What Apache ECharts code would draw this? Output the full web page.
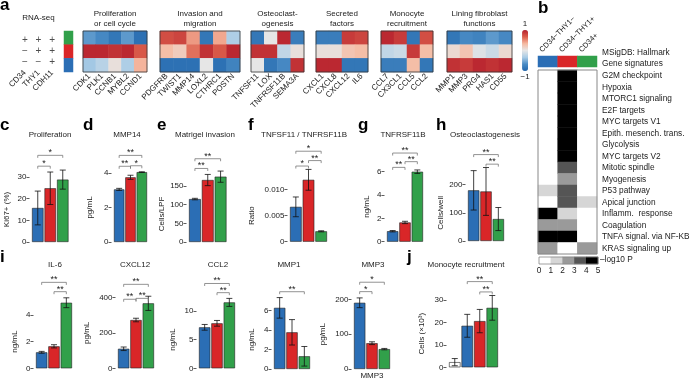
<!DOCTYPE html>
<html><head><meta charset="utf-8">
<script src="https://cdn.jsdelivr.net/npm/echarts@6/dist/echarts.min.js"></script>
<style>html,body{margin:0;padding:0;background:#fff}#c{width:690px;height:379px}</style>
</head><body><div id="c"></div>
<script>
// ---------------- DATA ----------------
const groups3 = ['CD34−THY1−', 'CD34−THY1+', 'CD34+'];
const groups4 = ['Medium', 'CD34−THY1−', 'CD34−THY1+', 'CD34+'];
const rnaMarkers = ['CD34', 'THY1', 'CDH11'];
const rnaSigns = [['+', '+', '+'], ['−', '+', '+'], ['−', '−', '+']];
const rowGroupCodes = [2, 1, 0]; // rows: CD34+, CD34−THY1+, CD34−THY1−

const prolifGenes = ['CDK1', 'PLK1', 'CCNB1', 'MYBL2', 'CCND1'];
const prolifVals = [[-0.6, -0.7, -0.85, -0.6, -0.9], [0.95, 0.95, 0.9, 0.95, 0.7], [-0.35, -0.25, 0.05, -0.3, 0.35]];
const invGenes = ['PDGFRB', 'TWIST1', 'MMP14', 'LOXL2', 'CTHRC1', 'POSTN'];
const invVals = [[0.75, 0.8, 0.45, -0.85, 0.4, -0.3], [0.3, 0.2, 0.6, 0.9, 0.7, 0.95], [-0.9, -0.9, -0.9, 0.0, -0.9, -0.75]];
const ostGenes = ['TNFSF11', 'LOX', 'TNFRSF11B', 'SEMA3A'];
const ostVals = [[-0.85, 0.0, 0.95, -0.8], [0.9, 0.9, -0.2, 0.05], [0.0, -0.85, -0.7, 0.9]];
const secGenes = ['CXCL1', 'CXCL8', 'CXCL12', 'IL6'];
const secVals = [[-0.8, -0.8, 0.85, 0.8], [0.05, 0.05, 0.25, 0.3], [0.95, 0.95, -0.85, -0.85]];
const monoGenes = ['CCL7', 'CX3CL1', 'CCL5', 'CCL2'];
const monoVals = [[0.95, 0.85, -0.85, 0.75], [-0.2, -0.15, 0.85, 0.3], [-0.8, -0.8, 0.3, -0.85]];
const linGenes = ['MMP1', 'MMP3', 'PRG4', 'HAS1', 'CD55'];
const linVals = [[-0.85, -0.7, -0.75, -0.6, -0.7], [0.1, 0.25, -0.05, -0.15, 0.1], [0.9, 0.85, 0.95, 0.9, 0.95]];
const moduleTitles = ['Proliferation\nor cell cycle', 'Invasion and\nmigration', 'Osteoclast-\nogenesis', 'Secreted\nfactors', 'Monocyte\nrecruitment', 'Lining fibroblast\nfunctions'];

const hallmarkSets = ['G2M checkpoint', 'Hypoxia', 'MTORC1 signaling', 'E2F targets', 'MYC targets V1', 'Epith. mesench. trans.', 'Glycolysis', 'MYC targets V2', 'Mitotic spindle', 'Myogenesis', 'P53 pathway', 'Apical junction', 'Inflamm.  response', 'Coagulation', 'TNFA signal. via NF-KB', 'KRAS signaling up'];
const hallmarkNegNeg = [0, 0, 0, 0, 0, 0, 0, 0, 0, 0, 1.5, 0, 5, 2.5, 5, 2.5];
const hallmarkNegPos = [5, 5, 5, 5, 5, 5, 5, 5, 3.5, 2.5, 3.5, 3.5, 1.5, 2.5, 5, 0];
const hallmarkPos = [0, 0, 0, 0, 0, 0, 0, 0, 0, 0, 0, 1.5, 0, 0, 0, 2.5];
const pLegendVals = [0.5, 1.5, 2.5, 3.5, 4.5];

const prolifMean = [15.7, 24.8, 28.8], prolifErr = [7.8, 7.5, 4.4];
const prolifSig = [[0, 1, 35], [0, 2, 40]], prolifStars = ['*', '*'];
const mmp14Mean = [3.05, 3.75, 4.05], mmp14Err = [0.06, 0.12, 0.02];
const mmp14Sig = [[0, 1, 4.39], [1, 2, 4.42], [0, 2, 5.02]], mmp14Stars = ['**', '*', '**'];
const invMean = [115, 166, 175], invErr = [2, 15, 15];
const invSig = [[0, 1, 197], [0, 2, 223]], invStars = ['**', '**'];
const ratioMean = [0.0067, 0.0119, 0.0020], ratioErr = [0.0019, 0.0020, 0.0001];
const ratioSig = [[0, 1, 0.01455], [1, 2, 0.0156], [0, 2, 0.0174]], ratioStars = ['*', '**', '*'];
const opgMean = [0.9, 1.65, 6.0], opgErr = [0.06, 0.1, 0.15];
const opgSig = [[0, 1, 6.37], [1, 2, 6.86], [0, 2, 7.6]], opgStars = ['**', '**', '**'];
const ostMean = [180, 176, 78], ostErr = [70, 85, 41];
const ostSig = [[1, 2, 273], [0, 2, 307]], ostStars = ['**', '**'];
const il6Mean = [1.2, 1.65, 4.92], il6Err = [0.07, 0.12, 0.37];
const il6Sig = [[1, 2, 5.75], [0, 2, 6.45]], il6Stars = ['**', '**'];
const cxcl12Mean = [110, 272, 366], cxcl12Err = [10, 10, 40];
const cxcl12Sig = [[0, 1, 389], [1, 2, 394], [0, 2, 473]], cxcl12Stars = ['**', '**', '**'];
const ccl2Mean = [7.15, 7.85, 11.5], ccl2Err = [0.5, 0.5, 0.7];
const ccl2Sig = [[1, 2, 13.2], [0, 2, 14.8]], ccl2Stars = ['**', '**'];
const mmp1Mean = [6.25, 3.75, 1.3], mmp1Err = [1.05, 1.3, 1.0];
const mmp1Sig = [[0, 2, 7.9]], mmp1Stars = ['**'];
const mmp3Mean = [190, 74, 57], mmp3Err = [14, 4, 2];
const mmp3Sig = [[0, 1, 222], [0, 2, 249]], mmp3Stars = ['*', '*'];
const monoMean = [2.3, 18.5, 20.6, 26.5], monoErr = [1.6, 5.1, 5.2, 5.5];
const monoSig = [[2, 3, 33.6], [1, 3, 38.2]], monoStars = ['**', '**'];

// ---------------- STYLE / LAYOUT ----------------
const BLUE = '#2b6eb5', RED = '#d92628', GREEN = '#31a04a';
const groupColors = [BLUE, RED, GREEN];
const monoColors = ['#ffffff', BLUE, RED, GREEN];
const FONT = 'Liberation Sans, Arial, sans-serif';
const TXT = '#222';

const grids = [], xAxes = [], yAxes = [], series = [], titles = [], graphics = [];
function addGrid(g) { grids.push(Object.assign({ outerBoundsMode: 'none', containLabel: false }, g)); return grids.length - 1; }
function addTitle(text, x, y, align, size, bold, lh) {
  titles.push({ text, left: x, top: y, textAlign: align || 'center', padding: 0, itemGap: 0,
    textStyle: { fontSize: size || 8, fontWeight: bold ? 'bold' : 'normal', color: bold ? '#000' : TXT, fontFamily: FONT, lineHeight: lh || undefined } });
}

// ---- panel a: RNA-seq signs ----
{
  const gi = addGrid({ left: 18, top: 34.5, width: 41, height: 33 });
  xAxes.push({ gridIndex: gi, type: 'category', data: rnaMarkers, axisLine: { show: false }, axisTick: { show: false },
    axisLabel: { rotate: 45, interval: 0, margin: 4, fontSize: 8, color: TXT, fontFamily: FONT } });
  yAxes.push({ gridIndex: gi, type: 'category', data: [0, 1, 2], inverse: true, show: false });
  const d = [];
  rnaSigns.forEach((row, r) => row.forEach((s, c) => d.push([c, r])));
  series.push({ type: 'scatter', xAxisIndex: xAxes.length - 1, yAxisIndex: yAxes.length - 1, data: d, symbolSize: 1,
    itemStyle: { color: 'rgba(0,0,0,0)' }, silent: true,
    label: { show: true, position: 'inside', fontSize: 10, color: TXT, fontFamily: FONT, formatter: p => rnaSigns[p.value[1]][p.value[0]] } });
}
const stripSeries = [];
{
  const gi = addGrid({ left: 64, top: 31, width: 9, height: 41 });
  xAxes.push({ gridIndex: gi, type: 'category', data: [0], show: false });
  yAxes.push({ gridIndex: gi, type: 'category', data: [0, 1, 2], inverse: true, show: false });
  stripSeries.push(series.length);
  series.push({ type: 'heatmap', xAxisIndex: xAxes.length - 1, yAxisIndex: yAxes.length - 1, silent: true,
    data: rowGroupCodes.map((g, r) => [0, r, g]) });
}
// ---- panel a heatmaps ----
const modules = [[prolifGenes, prolifVals], [invGenes, invVals], [ostGenes, ostVals], [secGenes, secVals], [monoGenes, monoVals], [linGenes, linVals]];
const modLayout = [[83, 64], [160, 80], [251, 53], [316, 52], [381, 52], [447, 65]];
const divSeries = [];
modules.forEach(([genes, vals], m) => {
  const [left, width] = modLayout[m];
  const gi = addGrid({ left, top: 31, width, height: 41, show: true, borderColor: '#333', borderWidth: 0.8, z: 10, backgroundColor: 'transparent' });
  xAxes.push({ gridIndex: gi, type: 'category', data: genes, axisLine: { show: false }, axisTick: { show: false },
    axisLabel: { rotate: 45, interval: 0, margin: 3, fontSize: 8, color: TXT, fontFamily: FONT } });
  yAxes.push({ gridIndex: gi, type: 'category', data: [0, 1, 2], inverse: true, show: false });
  const d = [];
  vals.forEach((row, r) => row.forEach((v, c) => d.push([c, r, v])));
  divSeries.push(series.length);
  series.push({ type: 'heatmap', xAxisIndex: xAxes.length - 1, yAxisIndex: yAxes.length - 1, data: d, silent: true });
  addTitle(moduleTitles[m], left + width / 2, 8.5, 'center', 8, false, 10);
});
addTitle('RNA-seq', 38.5, 13.5, 'center', 8);

// ---- panel b ----
const graySeries = [];
const bLeft = 538, bWidth = 59;
{
  const gi = addGrid({ left: bLeft, top: 70, width: bWidth, height: 184, show: true, borderColor: '#888', borderWidth: 1, z: 10, backgroundColor: 'transparent' });
  xAxes.push({ gridIndex: gi, type: 'category', data: groups3, show: false });
  yAxes.push({ gridIndex: gi, type: 'category', data: hallmarkSets, inverse: true, position: 'right',
    axisLine: { show: false }, axisTick: { show: false }, axisLabel: { interval: 0, margin: 5, fontSize: 8.3, color: TXT, fontFamily: FONT } });
  const d = [];
  [hallmarkNegNeg, hallmarkNegPos, hallmarkPos].forEach((col, c) => col.forEach((v, r) => d.push([c, r, v])));
  graySeries.push(series.length);
  series.push({ type: 'heatmap', xAxisIndex: xAxes.length - 1, yAxisIndex: yAxes.length - 1, data: d, silent: true });
}
{
  const gi = addGrid({ left: bLeft, top: 56, width: bWidth, height: 11 });
  xAxes.push({ gridIndex: gi, type: 'category', data: groups3, show: false });
  yAxes.push({ gridIndex: gi, type: 'category', data: [0], show: false });
  stripSeries.push(series.length);
  series.push({ type: 'heatmap', xAxisIndex: xAxes.length - 1, yAxisIndex: yAxes.length - 1, silent: true,
    data: groups3.map((g, i) => [i, 0, i]) });
  // rotated column headers
  groups3.forEach((g, i) => {
    graphics.push({ type: 'text', x: bLeft + (i + 0.5) * bWidth / 3 - 7, y: 51, rotation: Math.PI / 4, silent: true,
      style: { text: g, font: '7.5px ' + FONT, fill: TXT, align: 'left', verticalAlign: 'middle', textAlign: 'left', textVerticalAlign: 'middle' } });
  });
}
{
  const gi = addGrid({ left: 539, top: 257, width: 59, height: 7, show: true, borderColor: '#888', borderWidth: 0.8, z: 10, backgroundColor: 'transparent' });
  xAxes.push({ gridIndex: gi, type: 'category', data: pLegendVals.map(String), show: false });
  const xiCat = xAxes.length - 1;
  xAxes.push({ gridIndex: gi, type: 'value', min: 0, max: 5, interval: 1, position: 'bottom', axisLine: { show: false }, axisTick: { show: false }, splitLine: { show: false },
    axisLabel: { margin: 3, fontSize: 8.3, color: TXT, fontFamily: FONT } });
  yAxes.push({ gridIndex: gi, type: 'category', data: [0], show: false });
  graySeries.push(series.length);
  series.push({ type: 'heatmap', xAxisIndex: xiCat, yAxisIndex: yAxes.length - 1, silent: true,
    data: pLegendVals.map((v, i) => [i, 0, v]) });
}
addTitle('MSigDB: Hallmark', 602, 48.5, 'left', 8.3);
addTitle('Gene signatures', 602, 59.5, 'left', 8.3);
addTitle('–log10 P', 600, 256, 'left', 8.3);

// ---- bar panels ----
const barPanels = [
  { cats: groups3, mean: prolifMean, err: prolifErr, sig: prolifSig, stars: prolifStars, colors: groupColors, title: 'Proliferation', name: 'Ki67+ (%)' },
  { cats: groups3, mean: mmp14Mean, err: mmp14Err, sig: mmp14Sig, stars: mmp14Stars, colors: groupColors, title: 'MMP14', name: 'pg/mL' },
  { cats: groups3, mean: invMean, err: invErr, sig: invSig, stars: invStars, colors: groupColors, title: 'Matrigel invasion', name: 'Cells/LPF' },
  { cats: groups3, mean: ratioMean, err: ratioErr, sig: ratioSig, stars: ratioStars, colors: groupColors, title: 'TNFSF11 / TNFRSF11B', name: 'Ratio' },
  { cats: groups3, mean: opgMean, err: opgErr, sig: opgSig, stars: opgStars, colors: groupColors, title: 'TNFRSF11B', name: 'ng/mL' },
  { cats: groups3, mean: ostMean, err: ostErr, sig: ostSig, stars: ostStars, colors: groupColors, title: 'Osteoclastogenesis', name: 'Cells/well' },
  { cats: groups3, mean: il6Mean, err: il6Err, sig: il6Sig, stars: il6Stars, colors: groupColors, title: 'IL-6', name: 'ng/mL' },
  { cats: groups3, mean: cxcl12Mean, err: cxcl12Err, sig: cxcl12Sig, stars: cxcl12Stars, colors: groupColors, title: 'CXCL12', name: 'pg/mL' },
  { cats: groups3, mean: ccl2Mean, err: ccl2Err, sig: ccl2Sig, stars: ccl2Stars, colors: groupColors, title: 'CCL2', name: 'ng/mL' },
  { cats: groups3, mean: mmp1Mean, err: mmp1Err, sig: mmp1Sig, stars: mmp1Stars, colors: groupColors, title: 'MMP1', name: 'ng/mL' },
  { cats: groups3, mean: mmp3Mean, err: mmp3Err, sig: mmp3Sig, stars: mmp3Stars, colors: groupColors, title: 'MMP3', name: 'pg/mL', xName: 'MMP3' },
  { cats: groups4, mean: monoMean, err: monoErr, sig: monoSig, stars: monoStars, colors: monoColors, title: 'Monocyte recruitment', name: 'Cells (×10³)' }
];
const barLayout = [
  { left: 31.5, width: 37.5, zeroY: 242, topY: 177, max: 30, interval: 10, gap: 18.5, tx: 50, ty: 131 },
  { left: 113.5, width: 34, zeroY: 242, topY: 173, max: 4, interval: 2, gap: 17.5, tx: 127, ty: 131 },
  { left: 188.5, width: 38.5, zeroY: 242, topY: 186, max: 150, interval: 50, gap: 20.5, tx: 205, ty: 131 },
  { left: 289.5, width: 38, zeroY: 241.7, topY: 189.7, max: 0.010, interval: 0.005, gap: 31.5, tx: 304, ty: 131, fmt: v => v === 0 ? '0' : v.toFixed(3) },
  { left: 386.5, width: 37, zeroY: 241.7, topY: 171.7, max: 6, interval: 2, gap: 13.5, tx: 403, ty: 131 },
  { left: 467.5, width: 37, zeroY: 241, topY: 184.7, max: 200, interval: 100, gap: 19.5, tx: 485, ty: 131 },
  { left: 35.5, width: 37, zeroY: 368.3, topY: 315, max: 4, interval: 2, gap: 14.5, tx: 55, ty: 261 },
  { left: 117.5, width: 37, zeroY: 368.3, topY: 297.3, max: 400, interval: 200, gap: 24.5, tx: 135, ty: 261 },
  { left: 198.5, width: 37, zeroY: 368.3, topY: 311, max: 10, interval: 5, gap: 19.5, tx: 218, ty: 261 },
  { left: 273.5, width: 37, zeroY: 369, topY: 310.3, max: 6, interval: 2, gap: 15.5, tx: 289, ty: 261 },
  { left: 353.5, width: 37, zeroY: 369, topY: 299.3, max: 200, interval: 100, gap: 24.5, tx: 373, ty: 261 },
  { left: 448.5, width: 50, zeroY: 367.3, topY: 300, max: 30, interval: 10, gap: 20.5, tx: 466, ty: 261 }
];
barPanels.forEach((p, k) => {
  const L = barLayout[k];
  const gi = addGrid({ left: L.left, top: L.topY, width: L.width, height: L.zeroY - L.topY });
  xAxes.push({ gridIndex: gi, type: 'category', data: p.cats, axisLine: { show: false }, axisTick: { show: false }, axisLabel: { show: false },
    name: p.xName || '', nameLocation: 'middle', nameGap: 2.5, nameTextStyle: { fontSize: 8, color: TXT, fontFamily: FONT } });
  yAxes.push({ gridIndex: gi, type: 'value', min: 0, max: L.max, interval: L.interval, offset: 2,
    axisLine: { show: false }, splitLine: { show: false },
    axisTick: { show: true, length: 3, lineStyle: { color: '#333', width: 0.8 } },
    axisLabel: { margin: 3, fontSize: 8, color: TXT, fontFamily: FONT, formatter: L.fmt },
    name: p.name, nameLocation: 'middle', nameGap: L.gap, nameTextStyle: { fontSize: 8, color: TXT, fontFamily: FONT } });
  const xi = xAxes.length - 1, yi = yAxes.length - 1;
  series.push({ type: 'bar', xAxisIndex: xi, yAxisIndex: yi, clip: false, barCategoryGap: '8%', silent: true,
    data: p.mean.map((v, i) => ({ value: v, itemStyle: { color: p.colors[i], borderColor: '#222', borderWidth: 0.6 } })) });
  series.push({ type: 'custom', xAxisIndex: xi, yAxisIndex: yi, clip: false, silent: true, z: 5,
    encode: { x: 0, y: [1, 2] },
    data: p.mean.map((v, i) => [i, v - p.err[i], v + p.err[i]]),
    renderItem: (params, api) => {
      const a = api.coord([api.value(0), api.value(1)]), b = api.coord([api.value(0), api.value(2)]);
      const st = { stroke: '#111', lineWidth: 0.8 }, w = 3;
      return { type: 'group', children: [
        { type: 'line', shape: { x1: a[0], y1: a[1], x2: b[0], y2: b[1] }, style: st },
        { type: 'line', shape: { x1: a[0] - w, y1: a[1], x2: a[0] + w, y2: a[1] }, style: st },
        { type: 'line', shape: { x1: b[0] - w, y1: b[1], x2: b[0] + w, y2: b[1] }, style: st }
      ] };
    } });
  series.push({ type: 'custom', xAxisIndex: xi, yAxisIndex: yi, clip: false, silent: true, z: 5,
    encode: { x: [0, 1], y: 2 },
    data: p.sig,
    renderItem: (params, api) => {
      const a = api.coord([api.value(0), api.value(2)]), b = api.coord([api.value(1), api.value(2)]);
      const t = 2.5;
      return { type: 'group', children: [
        { type: 'polyline', shape: { points: [[a[0], a[1] + t], [a[0], a[1]], [b[0], b[1]], [b[0], b[1] + t]] }, style: { stroke: '#777', lineWidth: 0.8, fill: null } },
        { type: 'text', x: (a[0] + b[0]) / 2, y: a[1] + 2,
          style: { text: p.stars[params.dataIndex], fill: TXT, font: '9px ' + FONT, align: 'center', verticalAlign: 'bottom', textAlign: 'center', textVerticalAlign: 'bottom' } }
      ] };
    } });
  addTitle(p.title, L.tx, L.ty, 'center', 8);
});

// panel letters
[['a', 0, -3], ['b', 538, 0], ['c', 0, 117], ['d', 83, 117], ['e', 157, 117], ['f', 248, 117], ['g', 358, 117], ['h', 436, 117], ['i', 0, 249], ['j', 407, 249]]
  .forEach(([t, x, y]) => addTitle(t, x, y, 'left', 17, true));

const option = {
  animation: false,
  backgroundColor: '#fff',
  textStyle: { fontFamily: FONT },
  title: titles,
  graphic: graphics,
  grid: grids,
  xAxis: xAxes,
  yAxis: yAxes,
  visualMap: [
    { type: 'continuous', min: -1, max: 1, seriesIndex: divSeries, calculable: false, orient: 'vertical',
      left: 520.5, top: 20, itemWidth: 6, itemHeight: 41, padding: 0, textGap: 2, text: ['1', '−1'],
      textStyle: { fontSize: 8, color: TXT, fontFamily: FONT },
      inRange: { color: ['#2166ac', '#4a8cc5', '#a8cbe6', '#e6e6e6', '#f6b9a0', '#dc5e4b', '#b51f2c'] } },
    { type: 'piecewise', seriesIndex: graySeries, show: false,
      pieces: [{ gte: 0, lt: 1, color: '#ffffff' }, { gte: 1, lt: 2, color: '#d6d6d6' }, { gte: 2, lt: 3, color: '#9a9a9a' }, { gte: 3, lt: 4, color: '#555555' }, { gte: 4, lte: 5, color: '#000000' }] },
    { type: 'piecewise', seriesIndex: stripSeries, show: false,
      pieces: [{ value: 0, color: BLUE }, { value: 1, color: RED }, { value: 2, color: GREEN }] }
  ],
  series
};
const chart = echarts.init(document.getElementById('c'), null, { renderer: 'canvas' });
chart.setOption(option);
</script>
</body></html>
